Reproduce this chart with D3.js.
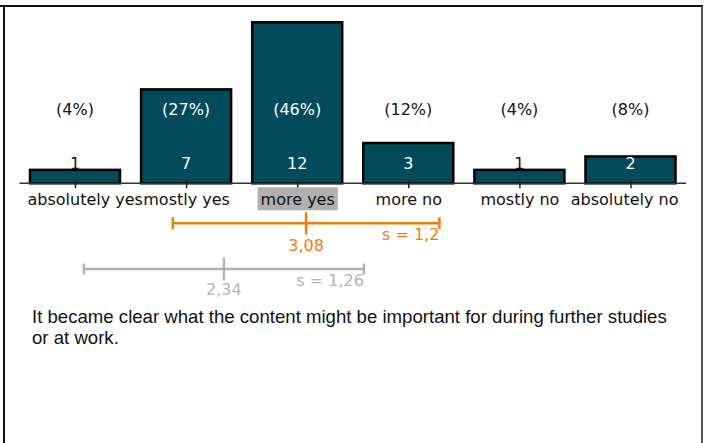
<!DOCTYPE html>
<html>
<head>
<meta charset="utf-8">
<script src="https://cdn.jsdelivr.net/npm/d3@7"></script>
<style>
  body { margin: 0; background: #fff; }
  svg { display: block; }
</style>
</head>
<body>
<svg id="chart"></svg>
<script>
const categories = ["absolutely yes", "mostly yes", "more yes", "more no", "mostly no", "absolutely no"];
const counts = [1, 7, 12, 3, 1, 2];
const percents = ["4%", "27%", "46%", "12%", "4%", "8%"];
const highlighted = "more yes";
// mean / standard deviation of this item and of the comparison
const itemStats = [3.08, 1.2];
const compareStats = [2.34, 1.26];
const statement = ["It became clear what the content might be important for during further studies", "or at work."];

const W = 706, H = 443;
const barColor = "#024b5a";
const orange = "#f07d0a";
const grey = "#b4b4b4";
const font = "DejaVu Sans";
const fs = "16px";

const de = d3.formatLocale({ decimal: ",", thousands: ".", grouping: [3], currency: ["", "€"] });
const fmt = de.format(".2~f");

const svg = d3.select("#chart")
  .attr("width", W)
  .attr("height", H);

// frame
svg.append("line").attr("x1", 0).attr("x2", 703).attr("y1", 6).attr("y2", 6)
  .attr("stroke", "#111").attr("stroke-width", 2);
svg.append("line").attr("x1", 4).attr("x2", 4).attr("y1", 6).attr("y2", H)
  .attr("stroke", "#111").attr("stroke-width", 2);
svg.append("line").attr("x1", 702).attr("x2", 702).attr("y1", 6).attr("y2", H)
  .attr("stroke", "#555").attr("stroke-width", 2);

const x = d3.scaleLinear().domain([1, 6]).range([75, 630.5]);
const y = d3.scaleLinear().domain([0, 12]).range([183.3, 22.3]);
const barW = 90;

const chart = svg.append("g");

chart.selectAll(".bar")
  .data(counts)
  .enter()
  .append("rect")
  .attr("class", "bar")
  .attr("x", (d, i) => x(i + 1) - barW / 2)
  .attr("y", (d) => y(d))
  .attr("width", barW)
  .attr("height", (d) => y(0) - y(d))
  .attr("fill", barColor)
  .attr("stroke", "#000")
  .attr("stroke-width", 2.5);

// baseline
chart.append("line")
  .attr("x1", x(0.5)).attr("x2", x(6.5))
  .attr("y1", y(0)).attr("y2", y(0))
  .attr("stroke", "#333").attr("stroke-width", 1.5);

const axis = chart.append("g")
  .attr("transform", `translate(0, ${y(0)})`)
  .call(d3.axisBottom(x)
    .tickValues(d3.range(1, 7))
    .tickFormat((d) => categories[d - 1])
    .tickSize(5));
axis.select(".domain").remove();
axis.selectAll(".tick line").attr("y1", -3).attr("stroke", "#222").attr("stroke-width", 1.5);
axis.selectAll(".tick text")
  .attr("y", 22).attr("dy", 0)
  .style("font-family", font).style("font-size", fs).attr("fill", "#111");

// keep the outer labels inside the frame
axis.selectAll(".tick").each(function(d) {
  const t = d3.select(this).select("text");
  const bb = t.node().getBBox();
  const left = x(d) + bb.x, right = x(d) + bb.x + bb.width;
  let shift = 0;
  if (left < 27) shift = 27 - left;
  if (right > 678) shift = 678 - right;
  t.attr("x", shift);
});

// grey box behind highlighted category
axis.selectAll(".tick").filter((d) => categories[d - 1] === highlighted)
  .each(function() {
    const t = d3.select(this).select("text");
    const bb = t.node().getBBox();
    d3.select(this).insert("rect", "text")
      .attr("x", bb.x - 3).attr("y", 4)
      .attr("width", bb.width + 6).attr("height", 23)
      .attr("fill", "#b0b0b0");
  });

// counts
chart.selectAll(".count")
  .data(counts)
  .enter()
  .append("text")
  .attr("class", "count")
  .attr("x", (d, i) => x(i + 1))
  .attr("y", 169)
  .attr("text-anchor", "middle")
  .style("font-family", font).style("font-size", fs)
  .attr("fill", (d) => (y(d) < 158 ? "#fff" : "#111"))
  .text((d) => d);

// percents
chart.selectAll(".pct")
  .data(percents)
  .enter()
  .append("text")
  .attr("class", "pct")
  .attr("x", (d, i) => x(i + 1))
  .attr("y", 115)
  .attr("text-anchor", "middle")
  .style("font-family", font).style("font-size", fs)
  .attr("fill", (d, i) => (y(counts[i]) < 100 ? "#fff" : "#111"))
  .text((d) => `(${d})`);

// mean +- sd intervals
function interval(stats, color, yPos, cap, mid, meanDy, sdDy) {
  const [m, s] = stats;
  const g = svg.append("g").attr("stroke", color).attr("stroke-width", 2.5);
  g.append("line").attr("x1", x(m - s)).attr("x2", x(m + s)).attr("y1", yPos).attr("y2", yPos);
  g.selectAll(".cap")
    .data([m - s, m + s])
    .enter()
    .append("line")
    .attr("x1", (d) => x(d)).attr("x2", (d) => x(d))
    .attr("y1", yPos - cap).attr("y2", yPos + cap);
  g.append("line").attr("x1", x(m)).attr("x2", x(m))
    .attr("y1", yPos - mid).attr("y2", yPos + mid);
  svg.append("text")
    .attr("x", x(m)).attr("y", yPos + meanDy)
    .attr("text-anchor", "middle")
    .style("font-family", font).style("font-size", fs)
    .attr("fill", color)
    .text(fmt(m));
  svg.append("text")
    .attr("x", x(m + s)).attr("y", yPos + sdDy)
    .attr("text-anchor", "end")
    .style("font-family", font).style("font-size", fs)
    .attr("fill", color)
    .text(`s = ${fmt(s)}`);
}

interval(itemStats, orange, 223.3, 6, 11, 27.5, 17);
interval(compareStats, grey, 269, 5.5, 11.5, 26, 16.5);

// statement text
const st = svg.append("g").attr("transform", "translate(32, 0)");
const lines = st.selectAll(".stmt")
  .data(statement)
  .enter()
  .append("text")
  .attr("class", "stmt")
  .attr("x", 0)
  .attr("y", (d, i) => 322.7 + i * 21)
  .style("font-family", "Liberation Sans, Arial, sans-serif")
  .style("font-size", "19px")
  .attr("fill", "#111")
  .text((d) => d);
const natural = lines.node().getComputedTextLength();
const sx = 635 / natural;
st.attr("transform", `translate(32, 0) scale(${sx}, 1)`);
</script>
</body>
</html>
